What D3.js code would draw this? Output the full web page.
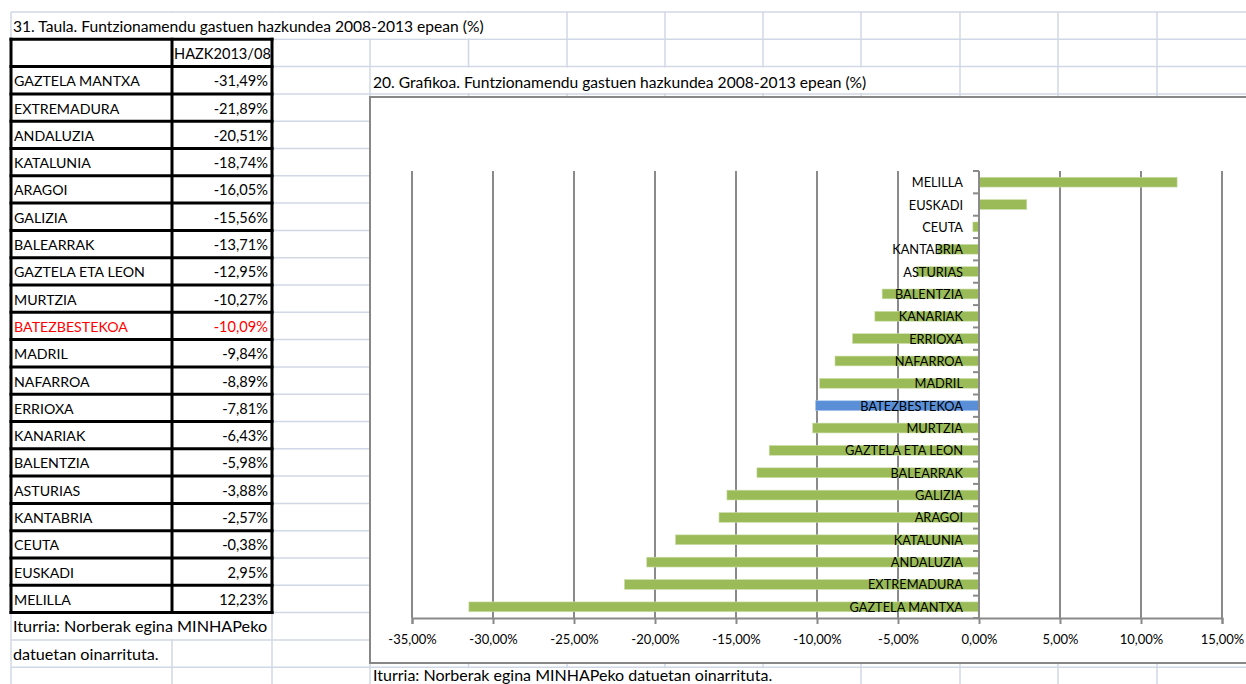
<!DOCTYPE html>
<html><head><meta charset="utf-8">
<script src="https://cdn.jsdelivr.net/npm/d3@7"></script>
<style>
html,body{margin:0;padding:0;background:#fff;overflow:hidden}
svg{display:block}
text{font-family:Lato,"Open Sans",sans-serif}
</style></head>
<body><svg id="c" width="1246" height="684"></svg>
<script>
// ---- data ----
const regions = ["GAZTELA MANTXA","EXTREMADURA","ANDALUZIA","KATALUNIA","ARAGOI","GALIZIA","BALEARRAK","GAZTELA ETA LEON","MURTZIA","BATEZBESTEKOA","MADRIL","NAFARROA","ERRIOXA","KANARIAK","BALENTZIA","ASTURIAS","KANTABRIA","CEUTA","EUSKADI","MELILLA"];
const growth = [-31.49,-21.89,-20.51,-18.74,-16.05,-15.56,-13.71,-12.95,-10.27,-10.09,-9.84,-8.89,-7.81,-6.43,-5.98,-3.88,-2.57,-0.38,2.95,12.23];
const highlight = "BATEZBESTEKOA";
const xTicks = [-35,-30,-25,-20,-15,-10,-5,0,5,10,15];
const tableTitle = "31. Taula. Funtzionamendu gastuen hazkundea 2008-2013 epean (%)";
const chartTitle = "20. Grafikoa. Funtzionamendu gastuen hazkundea 2008-2013 epean (%)";
const colHeader = "HAZK2013/08";
const sourceLine1 = "Iturria: Norberak egina MINHAPeko";
const sourceLine2 = "datuetan oinarrituta.";
const sourceFull = "Iturria: Norberak egina MINHAPeko datuetan oinarrituta.";

const fmt = v => d3.format(".2f")(v).replace(".", ",").replace("\u2212", "-") + "%";

const svg = d3.select("#c");
const W = 1246, H = 684;
const GRID = "#d0d7e5";

// ---- spreadsheet grid ----
const colX = [11,172,272,370,468.5,567,665,763,861,960,1058,1157];
const rowY0 = 12, rowH = 27.3;
const rowTop = k => rowY0 + rowH * k;
const g0 = svg.append("g");
d3.range(0, 26).forEach(k => {
  g0.append("line").attr("x1", 11).attr("x2", W).attr("y1", rowTop(k)).attr("y2", rowTop(k))
    .attr("stroke", GRID).attr("stroke-width", 1.5);
});
colX.forEach(x => {
  g0.append("line").attr("x1", x).attr("x2", x).attr("y1", rowY0).attr("y2", H)
    .attr("stroke", GRID).attr("stroke-width", 1.5);
});
// overflow text hides grid lines
function cover(x1, x2, k) {
  g0.append("rect").attr("x", x1 + 1).attr("y", rowTop(k) + 1)
    .attr("width", x2 - x1 - 2).attr("height", rowH - 2).attr("fill", "#fff");
}
cover(11, 567, 0);
cover(370, 960, 2);
cover(11, 272, 22);
cover(370, 861, 24);

const cellText = (x, k, s, anchor, color, size) => svg.append("text")
  .attr("x", x).attr("y", rowTop(k) + rowH / 2 + 6)
  .attr("text-anchor", anchor || "start").attr("fill", color || "#000")
  .attr("font-size", size || 14.2).text(s);

cellText(13, 0, tableTitle, "start", "#000", 15.6);
cellText(373, 2, chartTitle, "start", "#000", 15.6).attr("y", rowTop(2) + rowH / 2 + 7.5);
cellText(13, 22, sourceLine1, "start", "#000", 16.2);
cellText(13, 23, sourceLine2, "start", "#000", 16.2);
cellText(373, 24, sourceFull, "start", "#000", 16).attr("y", 681);

// ---- table ----
const tg = svg.append("g");
const tTop = rowTop(1), tBot = rowTop(regions.length + 2);
tg.append("rect").attr("x", 11).attr("y", tTop).attr("width", 261).attr("height", tBot - tTop).attr("fill", "#fff");
cellText(174, 1, colHeader, "start", "#000", 14.6);
regions.forEach((r, i) => {
  const c = r === highlight ? "#ff0000" : "#000";
  cellText(14, i + 2, r, "start", c);
  cellText(268, i + 2, fmt(growth[i]), "end", c, 14.6);
});
d3.range(0, regions.length + 2).forEach(k => {
  tg.append("line").attr("x1", 9.5).attr("x2", 273.5).attr("y1", rowTop(k + 1)).attr("y2", rowTop(k + 1))
    .attr("stroke", "#000").attr("stroke-width", 3);
});
[11, 172, 272].forEach(x => {
  tg.append("line").attr("x1", x).attr("x2", x).attr("y1", tTop - 1.5).attr("y2", tBot + 1.5)
    .attr("stroke", "#000").attr("stroke-width", 3);
});

// ---- chart ----
const cg = svg.append("g");
cg.append("rect").attr("x", 370).attr("y", 97).attr("width", 900).attr("height", 566)
  .attr("fill", "#fff").attr("stroke", "#878787").attr("stroke-width", 2);

const x = d3.scaleLinear().domain([-35, 15]).range([412, 1222]);
const cats = regions.slice().reverse();
const y = d3.scaleBand().domain(cats).range([171, 618]).paddingInner(0.56).paddingOuter(0.28);
const plotTop = 171, plotBot = 618;

// vertical gridlines
cg.selectAll("line.grid").data(xTicks).join("line").attr("class", "grid")
  .attr("x1", d => x(d)).attr("x2", d => x(d)).attr("y1", plotTop).attr("y2", plotBot)
  .attr("stroke", "#8a8a8a").attr("stroke-width", 2);

// bars
const vals = new Map(regions.map((r, i) => [r, growth[i]]));
cg.selectAll("rect.bar").data(cats).join("rect").attr("class", "bar")
  .attr("x", d => x(Math.min(0, vals.get(d))))
  .attr("width", d => Math.abs(x(vals.get(d)) - x(0)))
  .attr("y", d => y(d)).attr("height", y.bandwidth())
  .attr("fill", d => d === highlight ? "#5a8fd8" : "#9bbb59")
  .attr("stroke", d => d === highlight ? "#a9c4ea" : "#cfe0ad").attr("stroke-width", 0.6);

// x axis
const xAxis = d3.axisBottom(x).tickValues(xTicks).tickFormat(fmt).tickSize(6).tickPadding(11);
const xa = cg.append("g").attr("transform", `translate(0,${plotBot})`).call(xAxis);
xa.select(".domain").attr("stroke", "#8a8a8a").attr("stroke-width", 2);
xa.selectAll(".tick line").attr("stroke", "#8a8a8a").attr("stroke-width", 2);
xa.selectAll(".tick text").attr("font-size", 13).attr("fill", "#000")
  .attr("font-family", "Lato, sans-serif");

// y axis line with ticks between categories
const step = y.step();
cg.append("line").attr("x1", x(0)).attr("x2", x(0)).attr("y1", plotTop).attr("y2", plotBot)
  .attr("stroke", "#8a8a8a").attr("stroke-width", 2);
cg.selectAll("line.ytick").data(d3.range(0, cats.length + 1)).join("line").attr("class", "ytick")
  .attr("x1", x(0) - 6).attr("x2", x(0)).attr("y1", k => plotTop + k * step).attr("y2", k => plotTop + k * step)
  .attr("stroke", "#8a8a8a").attr("stroke-width", 2);

// category labels (on top of bars)
cg.selectAll("text.cat").data(cats).join("text").attr("class", "cat")
  .attr("x", x(0) - 16).attr("y", d => y(d) + y.bandwidth() / 2 + 5)
  .attr("text-anchor", "end").attr("font-size", 12.8).attr("fill", "#000").text(d => d);
</script></body></html>
